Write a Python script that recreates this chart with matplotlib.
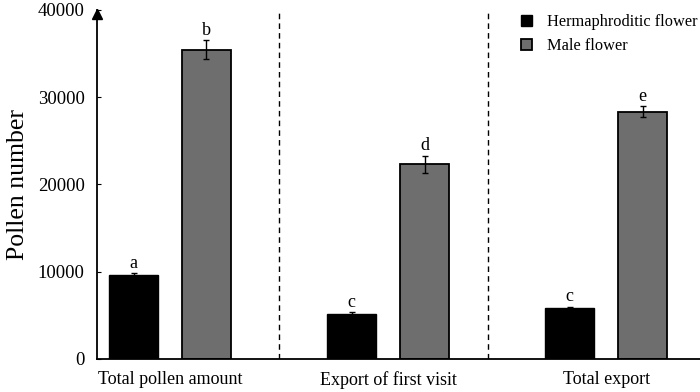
import numpy as np
import matplotlib.pyplot as plt

# datos
grupos = ["Total pollen amount", "Export of first visit", "Total export"]
herma = [9600, 5150, 5800]
herma_err = [250, 180, 200]
macho = [35450, 22300, 28350]
macho_err = [1100, 1000, 650]
letras_herma = ["a", "c", "c"]
letras_macho = ["b", "d", "e"]
separadores = [0.5, 1.46]

plt.rcParams['font.family'] = ['Liberation Serif', 'DejaVu Serif']

fig = plt.figure(figsize=(7, 3.92), dpi=100)
ax = fig.add_axes([0.1386, 0.0842, 0.8614, 0.8903])

x = np.arange(len(grupos))
ancho = 0.225
off = 0.167

ax.bar(x - off, herma, ancho, color="black", edgecolor="black", linewidth=1,
       label="Hermaphroditic flower", zorder=2)
ax.bar(x + off, macho, ancho, color="#6e6e6e", edgecolor="black", linewidth=1.3,
       label="Male flower", zorder=2)
ax.errorbar(x - off, herma, yerr=herma_err, fmt="none", ecolor="black",
            elinewidth=1, capsize=2.5, capthick=1, zorder=3)
ax.errorbar(x + off, macho, yerr=macho_err, fmt="none", ecolor="black",
            elinewidth=1, capsize=2.5, capthick=1, zorder=3)

for i in range(len(grupos)):
    ax.text(x[i] - off, herma[i] + herma_err[i] + 150, letras_herma[i],
            ha="center", va="bottom", fontsize=13)
    ax.text(x[i] + off, macho[i] + macho_err[i] + 150, letras_macho[i],
            ha="center", va="bottom", fontsize=13)

for s in separadores:
    ax.plot([s, s], [0, 39700], color="black", linestyle=(0, (4, 3)),
            linewidth=1, zorder=1)

ax.set_xlim(-0.335, 2.43)
ax.set_ylim(0, 40000)
ax.set_yticks([0, 10000, 20000, 30000, 40000])
ax.set_xticks(x)
ax.set_xticklabels(grupos, fontsize=13)
ax.tick_params(axis="y", direction="in", length=3, labelsize=13.5, pad=9)
ax.tick_params(axis="x", length=0, pad=9)
ax.set_ylabel("Pollen number", fontsize=18.5, labelpad=6)

ax.spines["top"].set_visible(False)
ax.spines["right"].set_visible(False)
ax.spines["left"].set_linewidth(1.3)
ax.spines["bottom"].set_linewidth(1.3)
ax.plot([0], [0.988], marker="^", color="black", markersize=7,
        transform=ax.transAxes, clip_on=False)

ax.legend(loc="upper right", bbox_to_anchor=(1.02, 1.03), frameon=False,
          fontsize=11.8, handlelength=0.65, handleheight=0.65, handletextpad=0.9,
          labelspacing=0.5)

plt.savefig("out.png", dpi=100)
